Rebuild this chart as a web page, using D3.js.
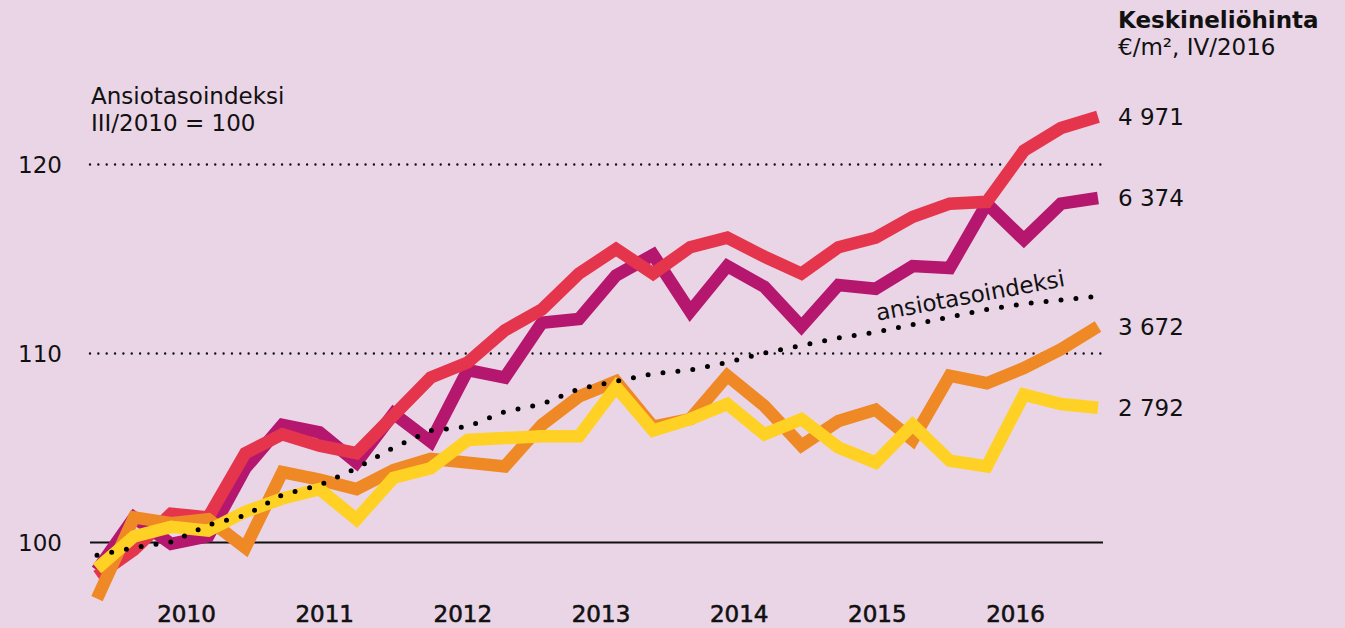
<!DOCTYPE html>
<html>
<head>
<meta charset="utf-8">
<script src="https://cdn.jsdelivr.net/npm/d3@7"></script>
<style>
  html, body { margin: 0; padding: 0; background: #e9d5e6; }
  svg { display: block; }
  text { font-family: "DejaVu Sans", "Open Sans", sans-serif; fill: #111; }
</style>
</head>
<body>
<svg id="chart" width="1345" height="628"></svg>
<script>
// quarters I/2010 .. IV/2016, index III/2010 = 100
const quarters = d3.range(28);
const years = [2010, 2011, 2012, 2013, 2014, 2015, 2016];
const yTicks = [100, 110, 120];

const redValues = [98.2, 99.6, 101.5, 101.3, 104.7, 105.7, 105.1, 104.7, 106.7, 108.7, 109.5, 111.2, 112.3, 114.2,
  115.5, 114.2, 115.6, 116.1, 115.1, 114.2, 115.6, 116.1, 117.2, 117.9, 118.0, 120.7, 121.9, 122.5];
const magentaValues = [98.5, 101.3, 99.9, 100.3, 103.9, 106.2, 105.8, 104.2, 106.8, 105.3, 109.1, 108.7, 111.6, 111.8,
  114.1, 115.2, 112.2, 114.6, 113.5, 111.4, 113.6, 113.4, 114.6, 114.5, 117.9, 116.0, 117.9, 118.2];
const orangeValues = [97.0, 101.3, 101.0, 101.2, 99.7, 103.7, 103.3, 102.8, 103.8, 104.4, 104.2, 104.0, 106.2, 107.7,
  108.5, 106.1, 106.5, 108.8, 107.2, 105.1, 106.4, 107.0, 105.4, 108.8, 108.4, 109.2, 110.2, 111.4];
const yellowValues = [98.6, 100.3, 100.8, 100.6, 101.6, 102.3, 102.8, 101.2, 103.4, 103.9, 105.4, 105.5, 105.6, 105.6,
  108.2, 105.9, 106.5, 107.3, 105.7, 106.5, 105.0, 104.2, 106.2, 104.3, 104.0, 107.8, 107.3, 107.1];
const wageIndex = [99.3, 99.7, 100.0, 100.9, 101.4, 102.5, 103.0, 103.9, 105.0, 105.9, 106.1, 106.9, 107.3, 108.1,
  108.5, 108.9, 109.1, 109.5, 110.0, 110.4, 110.8, 111.1, 111.5, 111.9, 112.3, 112.6, 112.8, 113.0];

const seriesNames = ['magenta', 'red', 'orange', 'yellow'];
const seriesValues = [magentaValues, redValues, orangeValues, yellowValues];
const seriesColors = ['#b5176f', '#e4354c', '#ef8926', '#ffd125'];
const priceLabels = ['6 374', '4 971', '3 672', '2 792'];

const svg = d3.select('#chart');

const x = d3.scaleLinear().domain([0, 27]).range([97, 1098]);
const y = d3.scaleLinear().domain([100, 120]).range([542, 164]);
const xYear = d3.scaleLinear().domain([2010, 2016]).range([186, 1015]);

// y axis with gridlines
const yAxis = d3.axisLeft(y)
  .tickValues(yTicks)
  .tickSize(-(1103 - 90))
  .tickPadding(28)
  .tickFormat(d3.format('d'));

const gy = svg.append('g')
  .attr('transform', 'translate(90,0)')
  .call(yAxis);
gy.select('.domain').remove();
gy.selectAll('.tick text')
  .style('font-size', '23px')
  .attr('dy', '0.36em');
gy.selectAll('.tick line')
  .attr('stroke', '#111')
  .attr('stroke-width', d => d === 100 ? 2 : 2.4)
  .attr('stroke-linecap', d => d === 100 ? 'butt' : 'round')
  .attr('stroke-dasharray', d => d === 100 ? null : '0,8.35');

// year labels, a bit heavier than the rest
const gx = svg.append('g')
  .attr('transform', 'translate(0,603)')
  .call(d3.axisBottom(xYear).tickValues(years).tickSize(0).tickFormat(d3.format('d')));
gx.select('.domain').remove();
gx.selectAll('.tick text')
  .style('font-size', '23px')
  .attr('stroke', '#111')
  .attr('stroke-width', 0.6)
  .attr('dy', '0.71em');

const line = d3.line()
  .x((d, i) => x(quarters[i]))
  .y(d => y(d));

svg.append('g')
  .selectAll('path')
  .data(seriesValues)
  .join('path')
  .attr('class', (d, i) => 'series ' + seriesNames[i])
  .attr('d', line)
  .attr('fill', 'none')
  .attr('stroke', (d, i) => seriesColors[i])
  .attr('stroke-width', 12.5)
  .attr('stroke-linejoin', 'miter')
  .attr('stroke-linecap', 'butt');

// wage index, dotted
svg.append('path')
  .datum(wageIndex)
  .attr('d', line)
  .attr('fill', 'none')
  .attr('stroke', '#000')
  .attr('stroke-width', 5)
  .attr('stroke-linecap', 'round')
  .attr('stroke-dasharray', '0,15');

svg.append('text')
  .attr('transform', `translate(${x(21.05)},${y(111.7)}) rotate(-10.5)`)
  .style('font-size', '23px')
  .text('ansiotasoindeksi');

// end labels
svg.append('g')
  .selectAll('text')
  .data(seriesValues)
  .join('text')
  .attr('x', 1118)
  .attr('y', d => y(d[d.length - 1]))
  .attr('dy', '0.36em')
  .style('font-size', '23px')
  .text((d, i) => priceLabels[i]);

// titles
const head = svg.append('text').attr('x', 1118).attr('y', 28).style('font-size', '23px');
head.append('tspan').style('font-weight', '700').text('Keskineliöhinta');
head.append('tspan').attr('x', 1118).attr('dy', 27).text('€/m², IV/2016');

const left = svg.append('text').attr('x', 91).attr('y', 104).style('font-size', '23px');
left.append('tspan').text('Ansiotasoindeksi');
left.append('tspan').attr('x', 91).attr('dy', 27).text('III/2010 = 100');
</script>
</body>
</html>
